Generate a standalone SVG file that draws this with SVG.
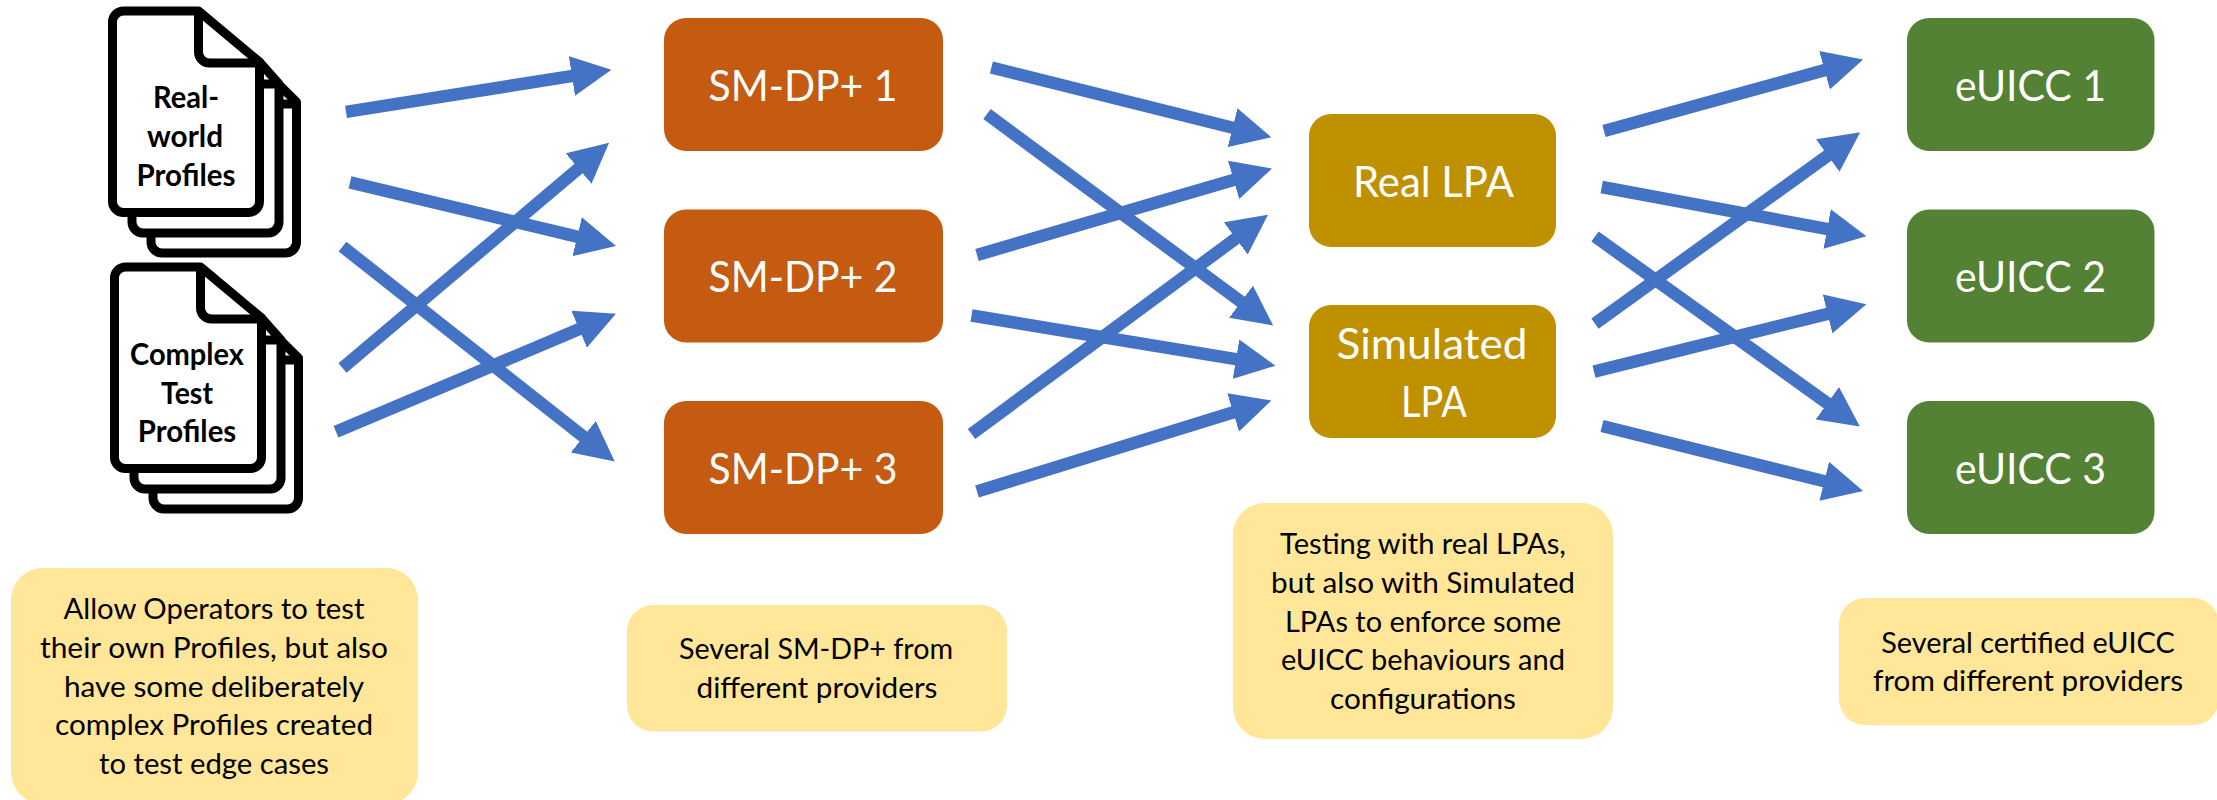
<svg xmlns="http://www.w3.org/2000/svg" xmlns:xlink="http://www.w3.org/1999/xlink" width="2217" height="800" viewBox="0 0 2217 800">
<style>
text{font-family:"Lato","Carlito","Liberation Sans",sans-serif;text-anchor:middle}
.doc{font-size:30px;font-weight:700;fill:#000}
.big{font-size:43px;fill:#fff}
.cap{font-size:29px;fill:#000}
.page{fill:#fff;stroke:#000;stroke-width:9;stroke-linejoin:round}
.line{fill:none;stroke:#000;stroke-width:9;stroke-linejoin:round}
.arrow{fill:none;stroke:#4472C4;stroke-width:12.500;marker-end:url(#head)}
.orange{fill:#C55A11}.gold{fill:#BF9000}.green{fill:#548235}.note{fill:#FFE699}
</style>
<defs>
<marker id="head" markerUnits="userSpaceOnUse" markerWidth="40" markerHeight="40" viewBox="0 0 38 38" refX="10" refY="19" orient="auto"><path d="M0 0L38 19L0 38Z" fill="#4472C4"/></marker>
<g id="stack">
<path class="page" d="M262 68L296.500 102V242a11 11 0 0 1-11 11H162a11 11 0 0 1-11-11V200Z"/>
<path class="line" d="M279 104H296.500"/>
<path class="page" d="M259.500 62L279 84V222a11 11 0 0 1-11 11H143a11 11 0 0 1-11-11V200Z"/>
<path class="line" d="M259.500 84H279"/>
<path class="page" d="M123.500 11H198.500L259.500 62V201.500a11 11 0 0 1-11 11H123.500a11 11 0 0 1-11-11V22a11 11 0 0 1 11-11Z"/>
<path class="line" d="M198.500 11V52a11 11 0 0 0 11 11H259.500"/>
</g>
</defs>
<rect width="2217" height="800" fill="#fff"/>
<g id="doc-real-world">
<use xlink:href="#stack" href="#stack"/>
<text class="doc" x="186" y="108" textLength="66" lengthAdjust="spacingAndGlyphs">Real-</text>
<text class="doc" x="185" y="147.300" textLength="76" lengthAdjust="spacingAndGlyphs">world</text>
<text class="doc" x="186" y="185.500" textLength="99" lengthAdjust="spacingAndGlyphs">Profiles</text>
</g>
<g id="doc-complex-test">
<use xlink:href="#stack" href="#stack" transform="translate(2 256)"/>
<text class="doc" x="187" y="365" textLength="114" lengthAdjust="spacingAndGlyphs">Complex</text>
<text class="doc" x="187" y="403.700" textLength="52" lengthAdjust="spacingAndGlyphs">Test</text>
<text class="doc" x="187" y="442" textLength="98.500" lengthAdjust="spacingAndGlyphs">Profiles</text>
</g>
<g id="smdp-1"><rect class="orange" x="664" y="18" width="279" height="133" rx="22"/><text class="big" x="803" y="101" textLength="189" lengthAdjust="spacingAndGlyphs">SM-DP+ 1</text></g>
<g id="smdp-2"><rect class="orange" x="664" y="209.500" width="279" height="133" rx="22"/><text class="big" x="803" y="292" textLength="189" lengthAdjust="spacingAndGlyphs">SM-DP+ 2</text></g>
<g id="smdp-3"><rect class="orange" x="664" y="401" width="279" height="133" rx="22"/><text class="big" x="803" y="484" textLength="189" lengthAdjust="spacingAndGlyphs">SM-DP+ 3</text></g>
<g id="lpa-real"><rect class="gold" x="1309" y="114" width="247" height="133" rx="22"/><text class="big" x="1433.500" y="196.500" textLength="161" lengthAdjust="spacingAndGlyphs">Real LPA</text></g>
<g id="lpa-sim"><rect class="gold" x="1309" y="305" width="247" height="133" rx="22"/><text class="big" x="1432" y="359" textLength="191" lengthAdjust="spacingAndGlyphs">Simulated</text><text class="big" x="1434" y="417" textLength="66" lengthAdjust="spacingAndGlyphs">LPA</text></g>
<g id="euicc-1"><rect class="green" x="1907" y="18" width="247.500" height="133" rx="22"/><text class="big" x="2030.500" y="101" textLength="151" lengthAdjust="spacingAndGlyphs">eUICC 1</text></g>
<g id="euicc-2"><rect class="green" x="1907" y="209.500" width="247.500" height="133" rx="22"/><text class="big" x="2030.500" y="292" textLength="151" lengthAdjust="spacingAndGlyphs">eUICC 2</text></g>
<g id="euicc-3"><rect class="green" x="1907" y="401" width="247.500" height="133" rx="22"/><text class="big" x="2030.500" y="484" textLength="151" lengthAdjust="spacingAndGlyphs">eUICC 3</text></g>
<g id="connectors">
<path class="arrow" d="M346 111.800L582.300 74.400"/>
<path class="arrow" d="M350 182.400L587.400 239.100"/>
<path class="arrow" d="M342.500 246.600L591.600 443.200"/>
<path class="arrow" d="M342.500 368L586.600 161.700"/>
<path class="arrow" d="M336 431.800L588.800 325.100"/>
<path class="arrow" d="M991.400 67.500L1242.800 130.200"/>
<path class="arrow" d="M987 114L1249.500 308"/>
<path class="arrow" d="M977 255L1243.700 176.900"/>
<path class="arrow" d="M971.500 315.500L1246.400 360.900"/>
<path class="arrow" d="M971.500 434L1244.300 232.200"/>
<path class="arrow" d="M977 491.500L1243.200 409.300"/>
<path class="arrow" d="M1604 131L1834.700 67.400"/>
<path class="arrow" d="M1601.700 187L1837.500 230.900"/>
<path class="arrow" d="M1595 236.500L1835.900 409.400"/>
<path class="arrow" d="M1595 323.600L1836.300 149.400"/>
<path class="arrow" d="M1594 371.600L1837.800 311.400"/>
<path class="arrow" d="M1602 426L1834.500 483.800"/>
</g>
<g id="note-profiles"><rect class="note" x="11" y="568" width="407" height="236" rx="32"/>
<text class="cap" x="214" y="619.300" textLength="301" lengthAdjust="spacingAndGlyphs">Allow Operators to test</text>
<text class="cap" x="214" y="658" textLength="348" lengthAdjust="spacingAndGlyphs">their own Profiles, but also</text>
<text class="cap" x="214" y="696.700" textLength="300" lengthAdjust="spacingAndGlyphs">have some deliberately</text>
<text class="cap" x="214" y="735.400" textLength="318" lengthAdjust="spacingAndGlyphs">complex Profiles created</text>
<text class="cap" x="214" y="774" textLength="230" lengthAdjust="spacingAndGlyphs">to test edge cases</text></g>
<g id="note-smdp"><rect class="note" x="627" y="605" width="380" height="126.500" rx="26"/>
<text class="cap" x="816" y="659.300" textLength="274" lengthAdjust="spacingAndGlyphs">Several SM-DP+ from</text>
<text class="cap" x="817" y="697.700" textLength="241" lengthAdjust="spacingAndGlyphs">different providers</text></g>
<g id="note-lpa"><rect class="note" x="1233" y="503" width="380" height="236" rx="32"/>
<text class="cap" x="1423" y="554.300" textLength="286" lengthAdjust="spacingAndGlyphs">Testing with real LPAs,</text>
<text class="cap" x="1423" y="593" textLength="304" lengthAdjust="spacingAndGlyphs">but also with Simulated</text>
<text class="cap" x="1423" y="631.700" textLength="276" lengthAdjust="spacingAndGlyphs">LPAs to enforce some</text>
<text class="cap" x="1423" y="670" textLength="284" lengthAdjust="spacingAndGlyphs">eUICC behaviours and</text>
<text class="cap" x="1423" y="708.500" textLength="186" lengthAdjust="spacingAndGlyphs">configurations</text></g>
<g id="note-euicc"><rect class="note" x="1839" y="598" width="380" height="127" rx="26"/>
<text class="cap" x="2028" y="652.700" textLength="293.500" lengthAdjust="spacingAndGlyphs">Several certified eUICC</text>
<text class="cap" x="2028" y="691.300" textLength="310" lengthAdjust="spacingAndGlyphs">from different providers</text></g>
</svg>
